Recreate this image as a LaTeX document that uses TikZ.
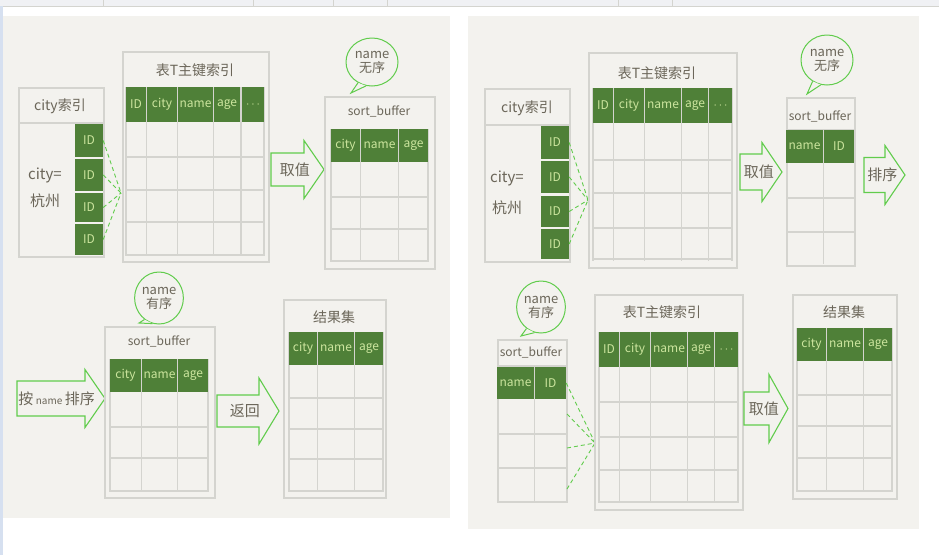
\documentclass[tikz,border=0pt]{standalone}
\usepackage{fontspec}
\setmainfont{Noto Sans CJK SC}
\usetikzlibrary{shapes.geometric}
\usepackage{xcolor}
\definecolor{paper}{rgb}{0.953, 0.949, 0.933}
\definecolor{leaf}{rgb}{0.31, 0.50, 0.22}
\definecolor{sprout}{rgb}{0.80, 0.90, 0.62}
\definecolor{ink}{rgb}{0.42, 0.40, 0.35}
\definecolor{rulegray}{rgb}{0.83, 0.83, 0.81}
\definecolor{lime}{rgb}{0.38, 0.80, 0.30}
\definecolor{tabbar}{rgb}{0.94, 0.945, 0.955}
\definecolor{sidebar}{rgb}{0.84, 0.88, 0.94}

% block arrow: name, x body, x head, x tip, y mid, half body, half head, text
\newcommand{\blockarrow}[8]{%
    \draw[bigarrow] (#2,#5-#6) -- (#3,#5-#6) -- (#3,#5-#7) -- (#4,#5) -- (#3,#5+#7) -- (#3,#5+#6) -- (#2,#5+#6) -- cycle;
    \node[arrowtext] (#1) at ({#2+0.45*(#4-#2)},#5) {#8};
}
% speech bubble: name, cx, cy, width, height, tip x, tip y, word
\newcommand{\speech}[8]{%
    \node[bubble, minimum width=#4pt, minimum height=#5pt] (#1) at (#2,#3) {name\\#8};
    \coordinate (#1tip) at (#6,#7);
    \fill[paper] (#1.236) -- (#1tip) -- (#1.256) -- cycle;
    \draw[lime, line width=1pt] (#1.236) -- (#1tip) -- (#1.256);
}

\begin{document}
\begin{tikzpicture}[x=1pt,y=-1pt,every node/.style={inner sep=0},
    box/.style={draw=rulegray, line width=1.6pt, fill=paper, anchor=north west},
    gridline/.style={draw=rulegray, line width=1.3pt},
    hcell/.style={fill=leaf, text=sprout, font=\fontsize{12}{13}\selectfont},
    title/.style={text=ink, font=\fontsize{14}{16}\selectfont},
    sbtitle/.style={text=ink, font=\fontsize{12}{14}\selectfont},
    pointer/.style={draw=lime, line width=0.9pt, dash pattern=on 4pt off 3pt},
    bigarrow/.style={draw=lime, line width=1.1pt, fill=paper, line join=miter},
    arrowtext/.style={text=ink, font=\fontsize{15}{16}\selectfont},
    bubble/.style={ellipse, draw=lime, line width=1pt, fill=paper, text=ink, align=center,
        font=\fontsize{13}{14}\selectfont}]

    \useasboundingbox (0,0) rectangle (939,555);
    % screen frame
    \fill[white] (0,0) rectangle (939,555);
    \fill[tabbar] (0,0) rectangle (939,6);
    \draw[rulegray, line width=0.8pt] (0,6.5) -- (939,6.5);
    \foreach \x in {103,253,333,387,618,672}
        \draw[rulegray, line width=0.6pt] (\x,0) -- (\x,6);
    \fill[sidebar] (0,6) rectangle (3,555);
    \fill[paper] (3,16) rectangle (450,518); % left panel
    \fill[paper] (468,16) rectangle (919,529); % right panel

    %%%%%%%%%% left panel, top row
    % city index
    \node[box, minimum width=85pt, minimum height=169pt] (lcity) at (18,87) {};
    \draw[gridline] (18,123) -- (103,123);
    \node[title] (lcityt) at (60,106) {city索引};
    \node[title, align=center, font=\fontsize{15}{16}\selectfont] (lcityk) at (45,188) {city=\\[10pt]杭州};
    \foreach \ya/\yb [count=\k] in {124/157,159/191,193/222,224/255}
        \node[hcell, minimum width=28pt, minimum height={(\yb-\ya)*1pt}] (lid\k) at (89,{(\ya+\yb)/2}) {ID};
    \coordinate (lin) at (121,193);
    \foreach \k in {1,...,4}
        \draw[pointer] (lid\k.east) -- (lin);

    % table T primary key
    \node[box, minimum width=146pt, minimum height=210pt] (lpk) at (122,51) {};
    \node[title] (lpkt) at (195,70) {表T主键索引};
    \foreach \x in {126,146.5,177.5,213.5,241,264}
        \draw[gridline] (\x,87) -- (\x,256);
    \foreach \y in {157,190,222,255}
        \draw[gridline] (126,\y) -- (264,\y);
    \foreach \a/\b/\t [count=\k] in {126/146/ID,147/177/city,178/213/name,214/240/age,242/264/$\cdots$}
        \node[hcell, minimum width={(\b-\a)*1pt}, minimum height=35pt] (lpkh\k) at ({(\a+\b)/2},104.5) {\t};

    \blockarrow{lget}{271}{304}{324}{169.5}{16.5}{29}{取值}

    % sort_buffer
    \node[box, minimum width=110pt, minimum height=172pt] (lsb) at (324,96) {};
    \node[sbtitle] (lsbt) at (379,111) {sort\_buffer};
    \foreach \x in {331,360.5,398.5,428}
        \draw[gridline] (\x,129) -- (\x,262);
    \foreach \y in {197,229,261}
        \draw[gridline] (331,\y) -- (428,\y);
    \foreach \a/\b/\t [count=\k] in {331/360/city,361/398/name,399/428/age}
        \node[hcell, minimum width={(\b-\a)*1pt}, minimum height=33pt] (lsbh\k) at ({(\a+\b)/2},145.5) {\t};
    \speech{lnb}{372}{62}{52}{48}{351}{93}{无序}

    %%%%%%%%%% left panel, bottom row
    \speech{lnb2}{159}{298}{44}{52}{139}{323}{有序}
    \blockarrow{lsort}{17}{85}{105}{398.5}{17.5}{29}{按\,{\fontsize{10}{10}\selectfont name}\,排序}

    % sort_buffer
    \node[box, minimum width=110pt, minimum height=171pt] (lsb2) at (104,326) {};
    \node[sbtitle] (lsb2t) at (159,341) {sort\_buffer};
    \foreach \x in {110,141.5,177.5,208}
        \draw[gridline] (\x,359) -- (\x,492);
    \foreach \y in {427,458,491}
        \draw[gridline] (110,\y) -- (208,\y);
    \foreach \a/\b/\t [count=\k] in {110/141/city,142/177/name,178/208/age}
        \node[hcell, minimum width={(\b-\a)*1pt}, minimum height=33pt] (lsb2h\k) at ({(\a+\b)/2},375.5) {\t};

    \blockarrow{lret}{217}{259}{279}{411}{16}{33}{返回}

    % result set
    \node[box, minimum width=102pt, minimum height=198pt] (lres) at (283,299) {};
    \node[title] (lrest) at (334,317) {结果集};
    \foreach \x in {289,317.5,354.5,383}
        \draw[gridline] (\x,332) -- (\x,492);
    \foreach \y in {398,429,459,491}
        \draw[gridline] (289,\y) -- (383,\y);
    \foreach \a/\b/\t [count=\k] in {289/317/city,318/354/name,355/383/age}
        \node[hcell, minimum width={(\b-\a)*1pt}, minimum height=33pt] (lresh\k) at ({(\a+\b)/2},348.5) {\t};

    %%%%%%%%%% right panel, top row
    % city index
    \node[box, minimum width=85pt, minimum height=173pt] (rcity) at (484,88) {};
    \draw[gridline] (484,125) -- (569,125);
    \node[title] (rcityt) at (527,108) {city索引};
    \node[title, align=center, font=\fontsize{15}{16}\selectfont] (rcityk) at (507,193) {city=\\[14pt]杭州};
    \foreach \ya/\yb [count=\k] in {126/159,161/193,196/227,229/259}
        \node[hcell, minimum width=28pt, minimum height={(\yb-\ya)*1pt}] (rid\k) at (555,{(\ya+\yb)/2}) {ID};
    \coordinate (rin) at (588,200);
    \foreach \k in {1,...,4}
        \draw[pointer] (rid\k.east) -- (rin);

    % table T primary key
    \node[box, minimum width=148pt, minimum height=215pt] (rpk) at (588,52) {};
    \node[title] (rpkt) at (657,73) {表T主键索引};
    \foreach \x in {593,613.5,644.5,681.5,708.5,732}
        \draw[gridline] (\x,88) -- (\x,261);
    \foreach \y in {160,193,228,259}
        \draw[gridline] (593,\y) -- (732,\y);
    \foreach \a/\b/\t [count=\k] in {593/613/ID,614/644/city,645/681/name,682/708/age,709/732/$\cdots$}
        \node[hcell, minimum width={(\b-\a)*1pt}, minimum height=35pt] (rpkh\k) at ({(\a+\b)/2},105.5) {\t};

    \blockarrow{rget}{740}{762}{782}{172}{18}{29.5}{取值}

    % sort_buffer
    \node[box, minimum width=68pt, minimum height=168pt] (rsb) at (786,97) {};
    \node[sbtitle] (rsbt) at (820,116) {sort\_buffer};
    \draw[gridline] (786,129.5) -- (854,129.5);
    \draw[gridline] (823.5,130) -- (823.5,264);
    \foreach \y in {198,232}
        \draw[gridline] (786,\y) -- (854,\y);
    \foreach \a/\b/\t [count=\k] in {786/823/name,824/854/ID}
        \node[hcell, minimum width={(\b-\a)*1pt}, minimum height=33pt] (rsbh\k) at ({(\a+\b)/2},146.5) {\t};
    \speech{rnb}{827}{60}{52}{50}{807}{94}{无序}

    \blockarrow{rsort}{864}{885}{905}{175}{17.5}{29.5}{排序}

    %%%%%%%%%% right panel, bottom row
    \speech{rnb2}{541}{307}{44}{52}{521}{336}{有序}

    % sort_buffer
    \node[box, minimum width=69pt, minimum height=162pt] (rsb2) at (497,339) {};
    \node[sbtitle] (rsb2t) at (531,352) {sort\_buffer};
    \draw[gridline] (497,366) -- (566,366);
    \draw[gridline] (534.5,367) -- (534.5,501);
    \foreach \y in {434,468}
        \draw[gridline] (497,\y) -- (566,\y);
    \foreach \a/\b/\t [count=\k] in {497/534/name,535/566/ID}
        \node[hcell, minimum width={(\b-\a)*1pt}, minimum height=32pt] (rsb2h\k) at ({(\a+\b)/2},383) {\t};
    \foreach \y [count=\k] in {414,448,489}
        \coordinate (rrow\k) at (567,\y);
    \coordinate (rin2) at (595,443);
    \draw[pointer] (rsb2h2.east) -- (rin2);
    \foreach \k in {1,...,3}
        \draw[pointer] (rrow\k) -- (rin2);

    % table T primary key
    \node[box, minimum width=148pt, minimum height=215pt] (rpk2) at (594,294) {};
    \node[title] (rpk2t) at (662,312) {表T主键索引};
    \foreach \x in {599,619.5,650.5,687.5,714.5,738}
        \draw[gridline] (\x,332) -- (\x,503);
    \foreach \y in {402,437,470,502}
        \draw[gridline] (599,\y) -- (738,\y);
    \foreach \a/\b/\t [count=\k] in {599/619/ID,620/650/city,651/687/name,688/714/age,715/738/$\cdots$}
        \node[hcell, minimum width={(\b-\a)*1pt}, minimum height=35pt] (rpk2h\k) at ({(\a+\b)/2},349.5) {\t};

    \blockarrow{rget2}{744}{769}{788}{408.5}{16.5}{34}{取值}

    % result set
    \node[box, minimum width=104pt, minimum height=204pt] (rres) at (792,294) {};
    \node[title] (rrest) at (844,312) {结果集};
    \foreach \x in {797,826.5,863.5,892}
        \draw[gridline] (\x,328) -- (\x,492);
    \foreach \y in {395,426,458,491}
        \draw[gridline] (797,\y) -- (892,\y);
    \foreach \a/\b/\t [count=\k] in {797/826/city,827/863/name,864/892/age}
        \node[hcell, minimum width={(\b-\a)*1pt}, minimum height=33pt] (rresh\k) at ({(\a+\b)/2},344.5) {\t};

\end{tikzpicture}
\end{document}
